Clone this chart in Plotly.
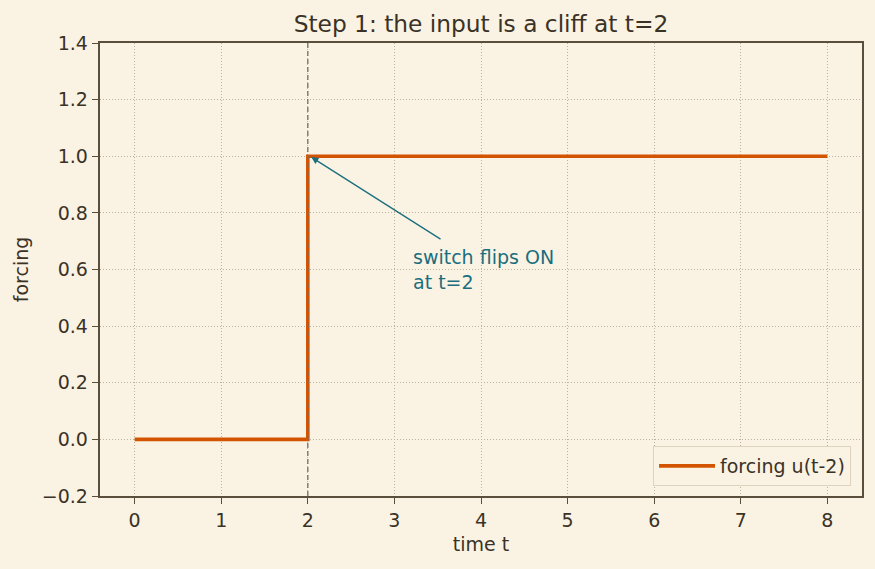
import plotly.graph_objects as go

t_vals = [0, 2, 8]
u_vals = [0, 1, 1]
x_ticks = [0, 1, 2, 3, 4, 5, 6, 7, 8]
y_ticks = [-0.2, 0.0, 0.2, 0.4, 0.6, 0.8, 1.0, 1.2, 1.4]
y_tick_text = ["\u22120.2", "0.0", "0.2", "0.4", "0.6", "0.8", "1.0", "1.2", "1.4"]
step_time = 2

BG = "#faf3e3"
AX = "#5a4e3c"
TXT = "#3a3226"
ORANGE = "#d35400"
TEAL = "#1a6e7e"
FONT = "DejaVu Sans"
FS = 19

fig = go.Figure()
fig.add_trace(go.Scatter(
    x=t_vals, y=u_vals, mode="lines", line=dict(color=ORANGE, width=3.6, shape="hv"),
    name="forcing u(t-2)"))

fig.add_shape(type="line", x0=step_time, x1=step_time, y0=0, y1=1, xref="x", yref="paper",
              line=dict(color="#707070", width=1.3, dash="5px,3px"), layer="above")

fig.add_annotation(x=2.04, y=0.997, ax=3.55, ay=0.704, xref="x", yref="y", axref="x", ayref="y",
                   text="", showarrow=True, arrowhead=2, arrowsize=1.1, arrowwidth=1.3,
                   arrowcolor=TEAL, standoff=0, startstandoff=0)
fig.add_annotation(x=3.19, y=0.60, xref="x", yref="y", text="switch flips ON<br>at t=2",
                   showarrow=False, xanchor="left", yanchor="middle", align="left",
                   font=dict(family=FONT, size=FS, color=TEAL))

axis_common = dict(showline=True, linecolor=AX, linewidth=1.5, mirror=True,
                   ticks="outside", ticklen=6.5, tickwidth=1.4, tickcolor=AX,
                   showgrid=True, gridcolor="#bcb29c", griddash="1px,2px", gridwidth=1,
                   zeroline=False, tickfont=dict(family=FONT, size=FS, color=TXT))

fig.update_xaxes(range=[-0.4, 8.4], tickvals=x_ticks,
                 title=dict(text="time t", font=dict(family=FONT, size=FS, color=TXT), standoff=8),
                 **axis_common)
fig.update_yaxes(range=[-0.2, 1.4], tickvals=y_ticks, ticktext=y_tick_text,
                 title=dict(text="forcing", font=dict(family=FONT, size=FS, color=TXT), standoff=8),
                 **axis_common)

fig.update_layout(
    width=875, height=569, paper_bgcolor=BG, plot_bgcolor=BG,
    margin=dict(l=100, r=13, t=43, b=73),
    title=dict(text="Step 1: the input is a cliff at t=2", x=0.5, xref="paper",
               y=1 - 24 / 569, yanchor="middle",
               font=dict(family=FONT, size=23.3, color=TXT)),
    font=dict(family=FONT, color=TXT),
    legend=dict(x=0.9856, y=0.022, xanchor="right", yanchor="bottom",
                bgcolor=BG, bordercolor="#ddd3bf", borderwidth=1, itemwidth=56,
                font=dict(family=FONT, size=FS, color=TXT)),
    showlegend=True,
)

fig.write_html("out.html")
